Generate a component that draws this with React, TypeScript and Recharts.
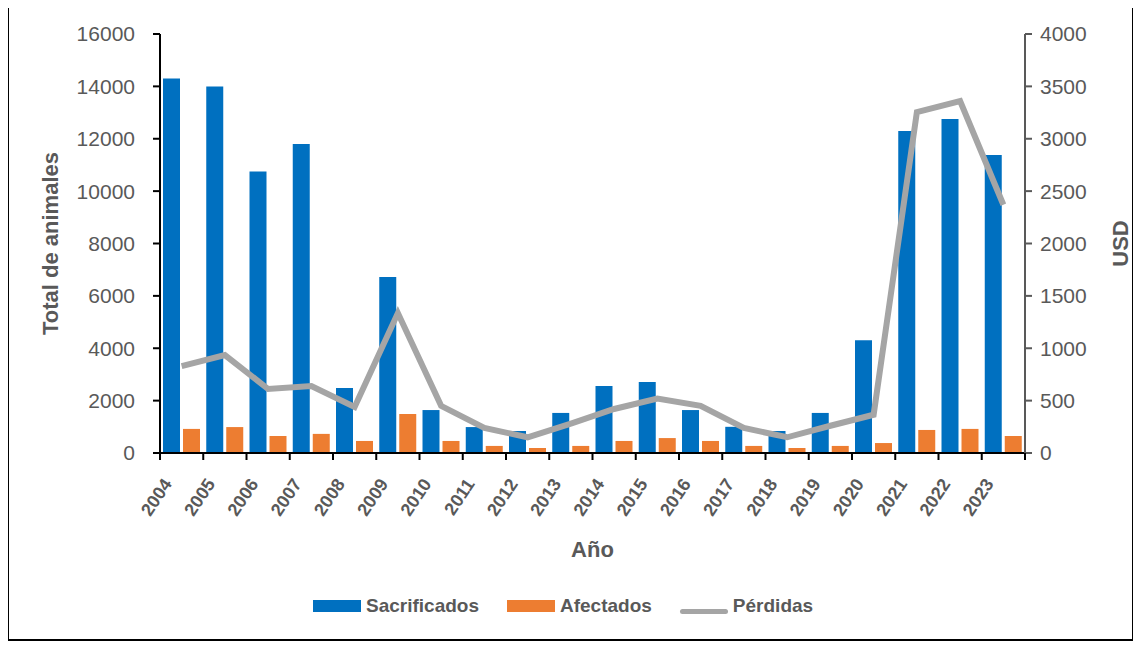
import React from 'react';
import { ComposedChart, Bar, Line, XAxis, YAxis } from 'recharts';

const years = ['2004', '2005', '2006', '2007', '2008', '2009', '2010', '2011', '2012', '2013',
  '2014', '2015', '2016', '2017', '2018', '2019', '2020', '2021', '2022', '2023'];
const sacrificados = [14300, 14000, 10750, 11800, 2480, 6720, 1640, 990, 840, 1530,
  2560, 2710, 1640, 1000, 840, 1530, 4310, 12300, 12750, 11380];
const afectados = [920, 990, 650, 730, 460, 1490, 460, 270, 190, 270,
  460, 570, 460, 270, 190, 270, 380, 880, 920, 650];
const perdidas = [830, 935, 611, 640, 440, 1336, 450, 240, 150, 280,
  420, 520, 450, 240, 150, 260, 365, 3255, 3360, 2370];
const leftTicks = [0, 2000, 4000, 6000, 8000, 10000, 12000, 14000, 16000];
const rightTicks = [0, 500, 1000, 1500, 2000, 2500, 3000, 3500, 4000];

const data = years.map((year, i) => ({
  year,
  sacrificados: sacrificados[i],
  afectados: afectados[i],
  perdidas: perdidas[i],
}));

const TEXT = '#595959';
const PLOT_W = 865;
const BAND = PLOT_W / years.length;

const YearTick = (props: any) => {
  const { x, y, payload, index } = props;
  const half = BAND / 2;
  const tx = x - 9;
  const ty = y + 24;
  return (
    <g>
      <line x1={x - half} x2={x - half} y1={y - 7} y2={y} stroke="#000" strokeWidth={2} />
      {index === years.length - 1 && (
        <line x1={x + half} x2={x + half} y1={y - 7} y2={y} stroke="#000" strokeWidth={2} />
      )}
      <text x={tx} y={ty} textAnchor="end" transform={`rotate(-56, ${tx}, ${ty})`}
        fill={TEXT} fontSize={18} fontWeight="bold">
        {payload.value}
      </text>
    </g>
  );
};

const LeftTitle = (props: any) => {
  const vb = props.viewBox;
  const x = vb.x + 49;
  const y = vb.y + vb.height / 2;
  return (
    <text x={x} y={y} textAnchor="middle" transform={`rotate(-90, ${x}, ${y})`}
      fill={TEXT} fontSize={22} fontWeight="bold">Total de animales</text>
  );
};

const RightTitle = (props: any) => {
  const vb = props.viewBox;
  const x = vb.x + vb.width - 4;
  const y = vb.y + vb.height / 2;
  return (
    <text x={x} y={y} textAnchor="middle" transform={`rotate(-90, ${x}, ${y})`}
      fill={TEXT} fontSize={22} fontWeight="bold">USD</text>
  );
};

const legendItems = [
  { name: 'Sacrificados', color: '#0070C0', type: 'rect' },
  { name: 'Afectados', color: '#ED7D31', type: 'rect' },
  { name: 'Pérdidas', color: '#A5A5A5', type: 'line' },
];

const App = () => {
  return (
    <div style={{
      position: 'relative', width: 1123, height: 633, border: '2px solid #000',
      marginTop: -4, marginLeft: -1, fontFamily: '"Liberation Sans", Arial, sans-serif',
      background: '#fff',
    }}>
      <ComposedChart width={1123} height={633} data={data}
        margin={{ top: 28, right: 0, bottom: 0, left: 0 }} barSize={17} barGap={3}>
        <XAxis dataKey="year" interval={0} height={186} tickSize={7} tickMargin={0}
          tickLine={false} axisLine={{ stroke: '#000', strokeWidth: 2 }} tick={<YearTick />}
          label={(p: any) => (
            <text x={p.viewBox.x + p.viewBox.width / 2} y={p.viewBox.y + 104} textAnchor="middle"
              fill={TEXT} fontSize={22} fontWeight="bold">Año</text>
          )} />
        <YAxis yAxisId="left" width={151} domain={[0, 16000]} ticks={leftTicks} interval={0}
          tickSize={7} tickMargin={18} axisLine={{ stroke: '#000', strokeWidth: 2 }}
          tickLine={{ stroke: '#000', strokeWidth: 2 }} tick={{ fill: TEXT, fontSize: 21 }}
          label={(p: any) => <LeftTitle {...p} />} />
        <YAxis yAxisId="right" orientation="right" width={107} domain={[0, 4000]} ticks={rightTicks}
          interval={0} tickSize={7} tickMargin={8} axisLine={{ stroke: '#595959', strokeWidth: 2 }}
          tickLine={{ stroke: '#595959', strokeWidth: 2 }} tick={{ fill: TEXT, fontSize: 21 }}
          label={(p: any) => <RightTitle {...p} />} />
        <Bar yAxisId="left" dataKey="sacrificados" name="Sacrificados" fill="#0070C0" isAnimationActive={false} />
        <Bar yAxisId="left" dataKey="afectados" name="Afectados" fill="#ED7D31" isAnimationActive={false} />
        <Line yAxisId="right" type="linear" dataKey="perdidas" name="Pérdidas" stroke="#A5A5A5"
          strokeWidth={6} dot={false} isAnimationActive={false} />
      </ComposedChart>
      <div style={{
        position: 'absolute', left: 304, top: 589, display: 'flex', alignItems: 'center',
        fontSize: 19, fontWeight: 'bold', color: TEXT,
      }}>
        {legendItems.map((item) => (
          <div key={item.name} style={{ display: 'flex', alignItems: 'center', marginRight: 28 }}>
            {item.type === 'rect' ? (
              <span style={{ display: 'inline-block', width: 48, height: 12, background: item.color, marginRight: 5 }} />
            ) : (
              <span style={{ display: 'inline-block', width: 48, height: 5, borderRadius: 3, background: item.color, marginRight: 5, marginTop: 10 }} />
            )}
            <span>{item.name}</span>
          </div>
        ))}
      </div>
    </div>
  );
};

export default App;
